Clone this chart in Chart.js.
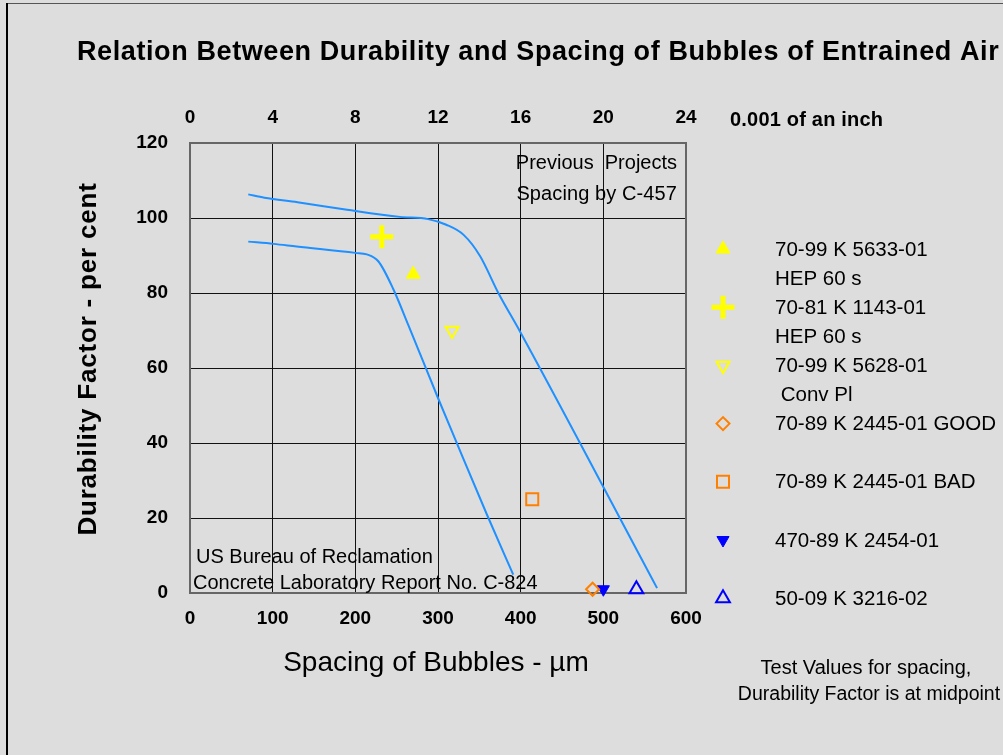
<!DOCTYPE html>
<html>
<head>
<meta charset="utf-8">
<script src="https://cdn.jsdelivr.net/npm/chart.js@4.4.0/dist/chart.umd.min.js"></script>
<style>
  html, body { margin: 0; padding: 0; background: #dddddd; }
  #wrap { width: 1003px; height: 755px; position: relative; overflow: hidden; }
</style>
</head>
<body>
<div id="wrap"><canvas id="chart" width="1003" height="755"></canvas></div>
<script>
// Reference curves (spacing in µm, durability factor in %)
const upperCurveX = [70.5, 90, 130, 190, 254, 288, 310, 331, 351, 373, 399, 565];
const upperCurveY = [106.3, 105.4, 104.2, 102.2, 100.3, 99.7, 98.2, 95.5, 89.8, 80, 69.8, 1.3];
const lowerCurveX = [70.5, 101, 129, 200, 214, 228, 246, 264, 300, 318, 359, 391];
const lowerCurveY = [93.7, 93.1, 92.4, 90.7, 90.3, 88.4, 81, 71.5, 52, 42.5, 21, 4.9];

// Test values, one point per project
const testNames = [
  ['70-99 K 5633-01', 'HEP 60 s'],
  ['70-81 K 1143-01', 'HEP 60 s'],
  ['70-99 K 5628-01', ' Conv Pl'],
  ['70-89 K 2445-01 GOOD'],
  ['70-89 K 2445-01 BAD'],
  ['470-89 K 2454-01'],
  ['50-09 K 3216-02'],
];
const testSpacing = [270, 232, 317, 487, 414, 500, 540];
const testDurability = [85, 95, 70, 1, 25, 1, 1];

// Axis ticks
const spacingTicks = [0, 100, 200, 300, 400, 500, 600];
const inchTicks = [0, 4, 8, 12, 16, 20, 24];
const durabilityTicks = [0, 20, 40, 60, 80, 100, 120];

const FONT = '"Liberation Sans", Arial, sans-serif';
Chart.defaults.font.family = FONT;
Chart.defaults.color = '#000';

// marker look per test series
const markerStyles = [
  { pointStyle: 'triangle', rotation: 0,   radius: 8,    fill: '#ffff00', stroke: '#ffff00', width: 1 },
  { pointStyle: 'cross',    rotation: 0,   radius: 11.5, fill: '#ffff00', stroke: '#ffff00', width: 5 },
  { pointStyle: 'triangle', rotation: 180, radius: 7.5,  fill: 'rgba(0,0,0,0)', stroke: '#ffff00', width: 2 },
  { pointStyle: 'rectRot',  rotation: 0,   radius: 6.5,  fill: 'rgba(0,0,0,0)', stroke: '#ff8000', width: 2 },
  { pointStyle: 'rect',     rotation: 0,   radius: 8.5,  fill: 'rgba(0,0,0,0)', stroke: '#ff8000', width: 2 },
  { pointStyle: 'triangle', rotation: 180, radius: 7,    fill: '#0000ff', stroke: '#0000ff', width: 1 },
  { pointStyle: 'triangle', rotation: 0,   radius: 8,    fill: 'rgba(0,0,0,0)', stroke: '#0000ff', width: 2 },
];

const curve = (xs, ys) => ({
  data: xs.map((x, i) => ({ x, y: ys[i] })),
  showLine: true,
  borderColor: '#1e90ff',
  borderWidth: 2,
  pointRadius: 0,
  cubicInterpolationMode: 'monotone',
  clip: false,
});

const testSets = testNames.map((name, i) => {
  const m = markerStyles[i];
  return {
    label: name.join(' '),
    data: [{ x: testSpacing[i], y: testDurability[i] }],
    showLine: false,
    pointStyle: m.pointStyle,
    pointRotation: m.rotation,
    pointRadius: m.radius,
    pointHoverRadius: m.radius,
    backgroundColor: m.fill,
    borderColor: m.stroke,
    borderWidth: m.width,
    clip: false,
  };
});

// Draws a string with extra letter spacing where the canvas supports it
function text(ctx, str, x, y, font, align = 'left', spacing = 0) {
  ctx.font = font;
  ctx.textAlign = align;
  ctx.textBaseline = 'middle';
  if ('letterSpacing' in ctx) ctx.letterSpacing = spacing + 'px';
  ctx.fillText(str, x, y);
  if ('letterSpacing' in ctx) ctx.letterSpacing = '0px';
}

const frame = {
  id: 'frame',
  beforeDatasetsDraw(chart) {
    const { ctx, chartArea: a } = chart;
    ctx.save();
    ctx.strokeStyle = '#666';
    ctx.lineWidth = 2;
    ctx.strokeRect(a.left, a.top, a.right - a.left, a.bottom - a.top);
    ctx.restore();
  },
  afterDraw(chart) {
    const ctx = chart.ctx;
    ctx.save();
    // slide frame
    ctx.strokeStyle = '#555';
    ctx.lineWidth = 1;
    ctx.beginPath(); ctx.moveTo(7, 3.5); ctx.lineTo(1003, 3.5); ctx.stroke();
    ctx.strokeStyle = '#000';
    ctx.lineWidth = 2;
    ctx.beginPath(); ctx.moveTo(7, 3); ctx.lineTo(7, 755); ctx.stroke();

    ctx.fillStyle = '#000';
    text(ctx, 'Relation Between Durability and Spacing of Bubbles of Entrained Air', 77, 53, 'bold 27px ' + FONT, 'left', 0.6);
    text(ctx, '0.001 of an inch', 730, 120, 'bold 20px ' + FONT, 'left', 0.2);
    text(ctx, 'Spacing of Bubbles - µm', 436, 663, '28px ' + FONT, 'center');

    ctx.save();
    ctx.translate(89, 359);
    ctx.rotate(-Math.PI / 2);
    text(ctx, 'Durability Factor - per cent', 0, 0, 'bold 26px ' + FONT, 'center', 0.8);
    ctx.restore();

    text(ctx, 'Previous  Projects', 677, 163, '20px ' + FONT, 'right');
    text(ctx, 'Spacing by C-457', 677, 194, '20px ' + FONT, 'right', 0.1);
    text(ctx, 'US Bureau of Reclamation', 196, 557, '20px ' + FONT);
    text(ctx, 'Concrete Laboratory Report No. C-824', 193, 583, '20px ' + FONT);
    text(ctx, 'Test Values for spacing,', 866, 668, '20px ' + FONT, 'center');
    text(ctx, 'Durability Factor is at midpoint', 869, 695, '19.5px ' + FONT, 'center');

    // side legend
    testNames.forEach((lines, i) => {
      const y = 250 + i * 58.2;
      const m = markerStyles[i];
      ctx.save();
      ctx.fillStyle = m.fill;
      ctx.strokeStyle = m.stroke;
      ctx.lineWidth = m.width;
      Chart.helpers.drawPoint(ctx, {
        pointStyle: m.pointStyle, rotation: m.rotation,
        radius: m.radius, borderWidth: m.width,
      }, 723, y - 1);
      ctx.restore();
      ctx.fillStyle = '#000';
      lines.forEach((line, j) => text(ctx, line, 775, y + j * 29, '20.5px ' + FONT));
    });
    ctx.restore();
  },
};

const tickFont = { size: 19, weight: 'bold' };
const fixedTicks = list => scale => { scale.ticks = list.map(v => ({ value: v })); };

new Chart(document.getElementById('chart'), {
  type: 'scatter',
  data: {
    datasets: [curve(upperCurveX, upperCurveY), curve(lowerCurveX, lowerCurveY), ...testSets],
  },
  options: {
    responsive: false,
    animation: false,
    layout: { padding: { left: 100, top: 100, right: 317, bottom: 117 } },
    plugins: { legend: { display: false }, tooltip: { enabled: false } },
    scales: {
      x: {
        type: 'linear', position: 'bottom', min: 0, max: 600,
        afterBuildTicks: fixedTicks(spacingTicks),
        ticks: { color: '#000', font: tickFont, padding: 14, maxRotation: 0, autoSkip: false },
        grid: { color: '#111', lineWidth: 1, drawTicks: false },
        border: { display: false },
        afterFit: s => { s.height = 45; },
      },
      xTop: {
        type: 'linear', position: 'top', min: 0, max: 24,
        afterBuildTicks: fixedTicks(inchTicks),
        ticks: { color: '#000', font: tickFont, padding: 14, maxRotation: 0, autoSkip: false },
        grid: { drawOnChartArea: false, drawTicks: false },
        border: { display: false },
        afterFit: s => { s.height = 43; },
      },
      y: {
        type: 'linear', position: 'left', min: 0, max: 120,
        afterBuildTicks: fixedTicks(durabilityTicks),
        ticks: { color: '#000', font: tickFont, padding: 22, autoSkip: false },
        grid: { color: '#111', lineWidth: 1, drawTicks: false },
        border: { display: false },
        afterFit: s => { s.width = 90; },
      },
    },
  },
  plugins: [frame],
});
</script>
</body>
</html>
